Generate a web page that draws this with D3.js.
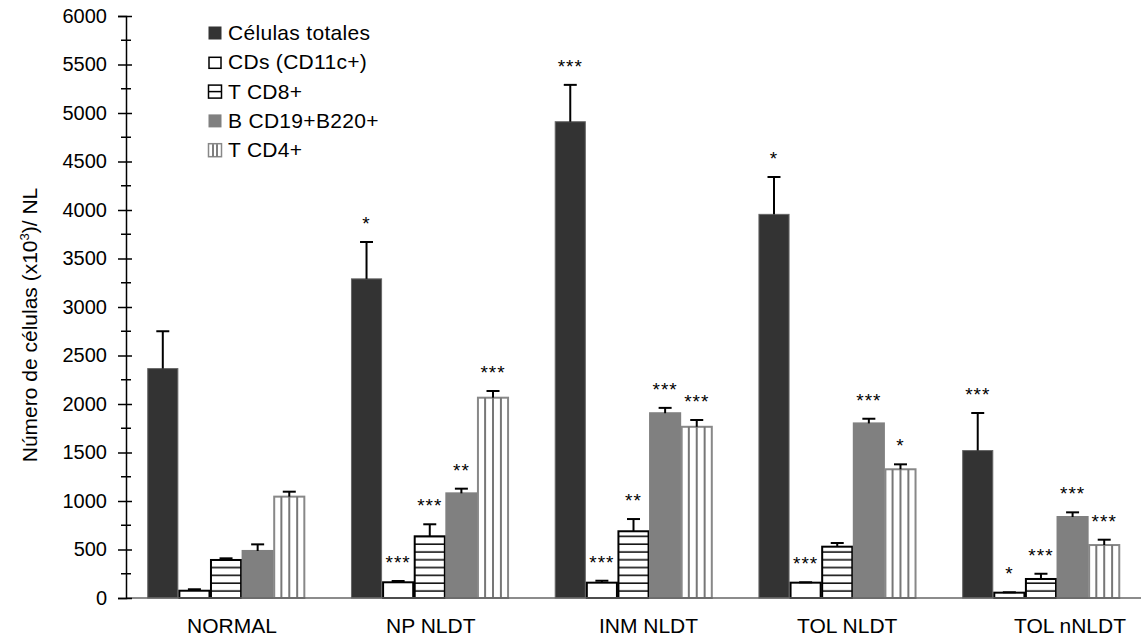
<!DOCTYPE html>
<html>
<head>
<meta charset="utf-8">
<title>Número de células por NL</title>
<script src="https://d3js.org/d3.v7.min.js"></script>
<style>
  body { margin: 0; background: #fff; }
  text { font-family: "Liberation Sans", Arial, sans-serif; fill: #000; }
</style>
</head>
<body>
<script>
// datos
var categories = ['NORMAL', 'NP NLDT', 'INM NLDT', 'TOL NLDT', 'TOL nNLDT'];
var seriesNames = ['Células totales', 'CDs (CD11c+)', 'T CD8+', 'B CD19+B220+', 'T CD4+'];

var totales    = [2365, 3290, 4910, 3955, 1520];
var totalesErr = [385, 380, 380, 385, 387];
var cds        = [75, 162, 158, 158, 55];
var cdsErr     = [15, 13, 20, 4, 4];
var cd8        = [392, 636, 688, 529, 196];
var cd8Err     = [17, 124, 126, 38, 54];
var bcd19      = [485, 1079, 1905, 1800, 835];
var bcd19Err   = [68, 48, 55, 48, 48];
var cd4        = [1045, 2065, 1765, 1327, 546];
var cd4Err     = [51, 69, 70, 51, 55];

var starsTotales = ['', '*', '***', '*', '***'];
var starsCds     = ['', '***', '***', '***', '*'];
var starsCd8     = ['', '***', '**', '', '***'];
var starsB       = ['', '**', '***', '***', '***'];
var starsCd4     = ['', '***', '***', '*', '***'];

var yTicks = [0, 500, 1000, 1500, 2000, 2500, 3000, 3500, 4000, 4500, 5000, 5500, 6000];

var values = [totales, cds, cd8, bcd19, cd4];
var errors = [totalesErr, cdsErr, cd8Err, bcd19Err, cd4Err];
var stars = [starsTotales, starsCds, starsCd8, starsB, starsCd4];

var width = 1141, height = 639;
var x0 = 126, yTop = 16, yBase = 598;

var svg = d3.select('body').append('svg')
  .attr('width', width)
  .attr('height', height);

var defs = svg.append('defs');
var hp = defs.append('pattern')
  .attr('id', 'hstripe')
  .attr('patternUnits', 'userSpaceOnUse')
  .attr('width', 8).attr('height', 7.8);
hp.append('rect').attr('width', 8).attr('height', 7.8).attr('fill', '#fff');
hp.append('line').attr('x1', 0).attr('x2', 8).attr('y1', 6).attr('y2', 6)
  .attr('stroke', '#000').attr('stroke-width', 1.5);

var xScale = d3.scaleBand()
  .domain(categories)
  .range([x0, 1141])
  .paddingInner(0.224)
  .paddingOuter(0.103);

var xSub = d3.scaleBand()
  .domain(seriesNames)
  .range([0, xScale.bandwidth()]);

var yScale = d3.scaleLinear()
  .domain([0, 6000])
  .range([yBase, yTop]);

// filas para dibujar
var rows = [];
categories.forEach(function(c, i) {
  seriesNames.forEach(function(s, j) {
    rows.push({cat: c, ser: s, j: j, v: values[j][i], e: errors[j][i], st: stars[j][i]});
  });
});

var fills = ['#333333', '#ffffff', 'url(#hstripe)', '#808080', '#ffffff'];
var strokes = ['#666', '#000', '#000', '#808080', '#888'];

var bars = svg.append('g');
bars.selectAll('rect')
  .data(rows)
  .enter()
  .append('rect')
  .attr('x', function(d) { return xScale(d.cat) + xSub(d.ser) + 0.75; })
  .attr('y', function(d) { return yScale(d.v); })
  .attr('width', xSub.bandwidth() - 1.5)
  .attr('height', function(d) { return yBase - yScale(d.v); })
  .attr('fill', function(d) { return fills[d.j]; })
  .attr('stroke', function(d) { return strokes[d.j]; })
  .attr('stroke-width', function(d) { return d.j === 0 ? 1 : 2; });

// rayas verticales de T CD4+
var vLines = [];
rows.filter(function(d) { return d.j === 4; }).forEach(function(d) {
  [1, 2, 3].forEach(function(k) {
    vLines.push({x: xScale(d.cat) + xSub(d.ser) + xSub.bandwidth() * k / 4, v: d.v});
  });
});
bars.selectAll('line.vs')
  .data(vLines)
  .enter()
  .append('line')
  .attr('class', 'vs')
  .attr('x1', function(d) { return d.x; })
  .attr('x2', function(d) { return d.x; })
  .attr('y1', function(d) { return yScale(d.v); })
  .attr('y2', yBase)
  .attr('stroke', '#777')
  .attr('stroke-width', 2);

// barras de error
var eg = svg.append('g').attr('stroke', '#000').attr('stroke-width', 2);
rows.forEach(function(d) {
  var cx = xScale(d.cat) + xSub(d.ser) + xSub.bandwidth() / 2;
  eg.append('line')
    .attr('x1', cx).attr('x2', cx)
    .attr('y1', yScale(d.v)).attr('y2', yScale(d.v + d.e));
  eg.append('line')
    .attr('x1', cx - 6.5).attr('x2', cx + 6.5)
    .attr('y1', yScale(d.v + d.e)).attr('y2', yScale(d.v + d.e));
});

// asteriscos
svg.append('g').selectAll('text')
  .data(rows.filter(function(d) { return d.st !== ''; }))
  .enter()
  .append('text')
  .attr('x', function(d) { return xScale(d.cat) + xSub(d.ser) + xSub.bandwidth() / 2; })
  .attr('y', function(d) { return yScale(d.v + d.e) - 12; })
  .attr('text-anchor', 'middle')
  .attr('font-size', '19px')
  .attr('letter-spacing', '1px')
  .text(function(d) { return d.st; });

// eje x
svg.append('line')
  .attr('x1', x0).attr('x2', width)
  .attr('y1', yBase).attr('y2', yBase)
  .attr('stroke', '#666').attr('stroke-width', 1.5);

var labelShift = [6, 1, 15, 10, 29];
svg.append('g').selectAll('text')
  .data(categories)
  .enter()
  .append('text')
  .attr('x', function(d, i) { return xScale(d) + xScale.bandwidth() / 2 + labelShift[i]; })
  .attr('y', 633)
  .attr('text-anchor', 'middle')
  .attr('font-size', '21px')
  .text(function(d) { return d; });

// eje y
var yAxis = svg.append('g')
  .attr('transform', 'translate(' + x0 + ',0)')
  .call(d3.axisLeft(yScale).tickValues(yTicks).tickFormat(d3.format('d')).tickSize(8).tickPadding(11));
yAxis.select('.domain').attr('stroke', '#000').attr('stroke-width', 1.5);
yAxis.selectAll('.tick line').attr('x1', 6).attr('stroke-width', 1.5);
yAxis.selectAll('.tick text')
  .attr('font-size', '20px')
  .attr('font-family', '"Liberation Sans", Arial, sans-serif');

var minor = d3.range(250, 6000, 500);
yAxis.selectAll('line.minor')
  .data(minor)
  .enter()
  .append('line')
  .attr('class', 'minor')
  .attr('x1', -5).attr('x2', 5)
  .attr('y1', function(d) { return yScale(d); })
  .attr('y2', function(d) { return yScale(d); })
  .attr('stroke', '#000').attr('stroke-width', 1.5);

var title = svg.append('text')
  .attr('transform', 'translate(37,' + ((yTop + yBase) / 2 + 18) + ') rotate(-90)')
  .attr('text-anchor', 'middle')
  .attr('font-size', '21px');
title.append('tspan').text('Número de células (x10');
title.append('tspan').attr('font-size', '13px').attr('dy', -8).text('3');
title.append('tspan').attr('dy', 8).text(')/ NL');

// leyenda
var legend = svg.append('g').attr('transform', 'translate(208,0)');
var li = legend.selectAll('g')
  .data(seriesNames)
  .enter()
  .append('g')
  .attr('transform', function(d, i) { return 'translate(0,' + (33 + i * 29.3) + ')'; });

li.append('rect')
  .attr('x', function(d, i) { return i === 1 ? 1 : 0.5; })
  .attr('y', function(d, i) { return i === 1 ? -5 : -6.5; })
  .attr('width', function(d, i) { return i === 1 ? 12 : 13; })
  .attr('height', function(d, i) { return i === 1 ? 11 : 13; })
  .attr('fill', function(d, i) { return i === 2 || i === 4 ? '#fff' : fills[i]; })
  .attr('stroke', function(d, i) { return i === 0 ? '#333' : strokes[i]; })
  .attr('stroke-width', function(d, i) { return i === 0 || i === 3 ? 0 : 1.5; });

li.filter(function(d, i) { return i === 2; })
  .append('line')
  .attr('x1', 0.5).attr('x2', 13.5).attr('y1', 0).attr('y2', 0)
  .attr('stroke', '#000').attr('stroke-width', 1.5);
li.filter(function(d, i) { return i === 4; })
  .selectAll('line')
  .data([5, 9])
  .enter()
  .append('line')
  .attr('x1', function(d) { return d; }).attr('x2', function(d) { return d; })
  .attr('y1', -6).attr('y2', 6)
  .attr('stroke', '#555').attr('stroke-width', 1.5);

li.append('text')
  .attr('x', 20)
  .attr('y', 7)
  .attr('font-size', '21px')
  .attr('letter-spacing', '0.3px')
  .text(function(d) { return d; });
</script>
</body>
</html>
